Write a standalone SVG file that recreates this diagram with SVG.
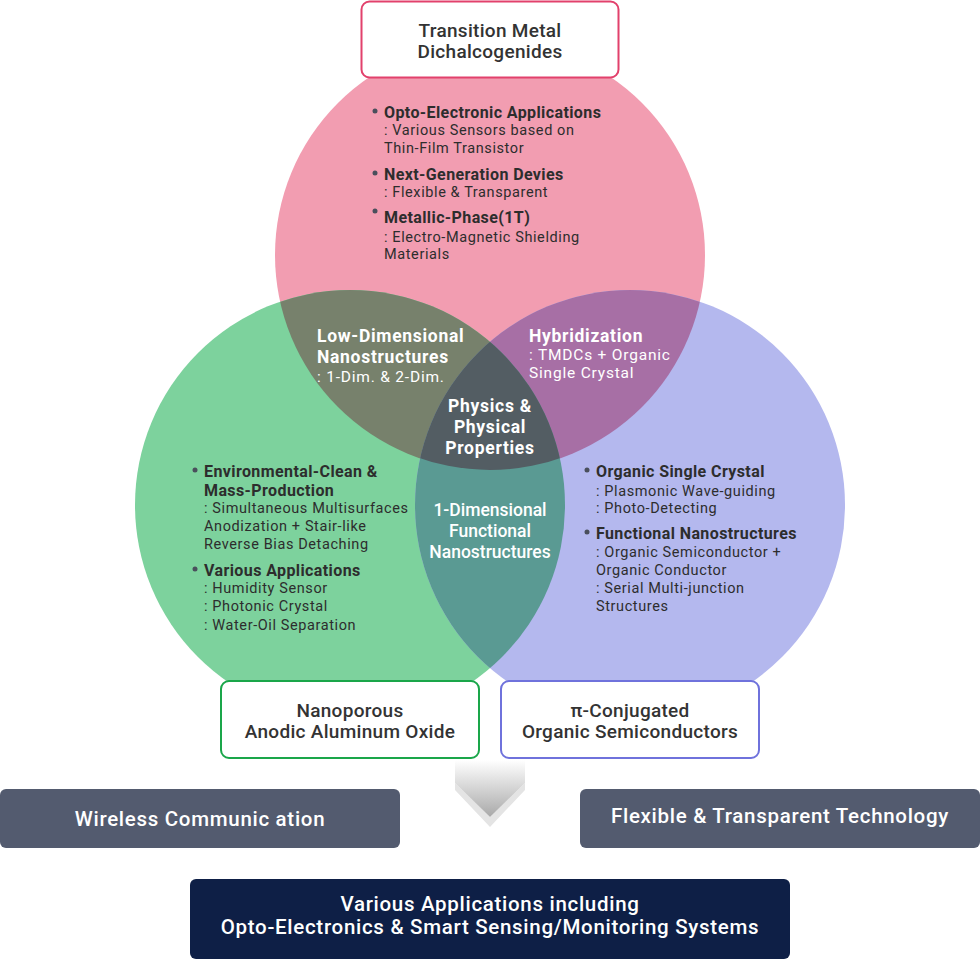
<svg xmlns="http://www.w3.org/2000/svg" width="980" height="959" viewBox="0 0 980 959">
<style>
text{font-family:Roboto,"Noto Sans","Liberation Sans",sans-serif}
.t{fill:#2d2d2d;font-size:14.5px;letter-spacing:0.6px}
.tb{fill:#2d2d2d;font-size:16px;font-weight:700;letter-spacing:0.4px}
.w{fill:#fff;font-size:15.5px;letter-spacing:0.8px}
.wb{fill:#fff;font-size:17.5px;font-weight:700;letter-spacing:0.7px}
.wm{fill:#fff;font-size:17.5px;font-weight:500}
.bx{fill:#333;font-size:19px;font-weight:500;letter-spacing:0.3px}
.dot{fill:#4a4f5c}
.gb{fill:#fff;font-size:20.5px;font-weight:500;letter-spacing:0.7px}
</style>
<defs>
<clipPath id="cP"><circle cx="490" cy="255" r="215"/></clipPath>
<clipPath id="cG"><circle cx="350" cy="505" r="215"/></clipPath>
<clipPath id="cB"><circle cx="630" cy="505" r="215"/></clipPath>
<linearGradient id="ag" x1="0" y1="0" x2="0" y2="1">
<stop offset="0" stop-color="#ffffff"/>
<stop offset="1" stop-color="#a9a9a9"/>
</linearGradient>
</defs>

<g id="venn">
<circle cx="490" cy="255" r="215" fill="#f29db1"/>
<circle cx="350" cy="505" r="215" fill="#7dd29d"/>
<circle cx="630" cy="505" r="215" fill="#b4b8ee"/>
<circle cx="350" cy="505" r="215" fill="#77816c" clip-path="url(#cP)"/>
<circle cx="630" cy="505" r="215" fill="#a76fa5" clip-path="url(#cP)"/>
<circle cx="630" cy="505" r="215" fill="#5a9a93" clip-path="url(#cG)"/>
<g clip-path="url(#cG)"><circle cx="490" cy="255" r="215" fill="#535d63" clip-path="url(#cB)"/></g>
</g>

<g id="tmd-content">
<circle class="dot" cx="375" cy="111" r="2.5"/>
<text class="tb" x="384" y="118">Opto-Electronic Applications</text>
<text class="t" x="384" y="135">: Various Sensors based on</text>
<text class="t" x="384" y="153">Thin-Film Transistor</text>
<circle class="dot" cx="375" cy="173" r="2.5"/>
<text class="tb" x="384" y="180">Next-Generation Devies</text>
<text class="t" x="384" y="197">: Flexible &amp; Transparent</text>
<circle class="dot" cx="375" cy="211" r="2.5"/>
<text class="tb" x="384" y="223">Metallic-Phase(1T)</text>
<text class="t" x="384" y="242">: Electro-Magnetic Shielding</text>
<text class="t" x="384" y="259">Materials</text>
</g>

<g id="low-dim">
<text class="wb" x="317" y="342">Low-Dimensional</text>
<text class="wb" x="317" y="363">Nanostructures</text>
<text class="w" x="317" y="382">: 1-Dim. &amp; 2-Dim.</text>
</g>

<g id="hybrid">
<text class="wb" x="529" y="342">Hybridization</text>
<text class="w" x="529" y="360">: TMDCs + Organic</text>
<text class="w" x="529" y="378">Single Crystal</text>
</g>

<g id="physics">
<text class="wb" x="490" y="412" text-anchor="middle">Physics &amp;</text>
<text class="wb" x="490" y="433" text-anchor="middle">Physical</text>
<text class="wb" x="490" y="454" text-anchor="middle">Properties</text>
</g>

<g id="one-dim">
<text class="wm" x="490" y="516" text-anchor="middle">1-Dimensional</text>
<text class="wm" x="490" y="537" text-anchor="middle">Functional</text>
<text class="wm" x="490" y="558" text-anchor="middle">Nanostructures</text>
</g>

<g id="aao-content">
<circle class="dot" cx="195" cy="470" r="2.5"/>
<text class="tb" x="204" y="477">Environmental-Clean &amp;</text>
<text class="tb" x="204" y="496">Mass-Production</text>
<text class="t" x="204" y="513">: Simultaneous Multisurfaces</text>
<text class="t" x="204" y="531">Anodization + Stair-like</text>
<text class="t" x="204" y="549">Reverse Bias Detaching</text>
<circle class="dot" cx="195" cy="569" r="2.5"/>
<text class="tb" x="204" y="576">Various Applications</text>
<text class="t" x="204" y="593">: Humidity Sensor</text>
<text class="t" x="204" y="611">: Photonic Crystal</text>
<text class="t" x="204" y="630">: Water-Oil Separation</text>
</g>

<g id="organic-content">
<circle class="dot" cx="587" cy="470" r="2.5"/>
<text class="tb" x="596" y="477">Organic Single Crystal</text>
<text class="t" x="596" y="496">: Plasmonic Wave-guiding</text>
<text class="t" x="596" y="513">: Photo-Detecting</text>
<circle class="dot" cx="587" cy="532" r="2.5"/>
<text class="tb" x="596" y="539">Functional Nanostructures</text>
<text class="t" x="596" y="557">: Organic Semiconductor +</text>
<text class="t" x="596" y="575">Organic Conductor</text>
<text class="t" x="596" y="593">: Serial Multi-junction</text>
<text class="t" x="596" y="611">Structures</text>
</g>

<g id="tmd-box">
<rect x="361.5" y="1.5" width="257" height="76" rx="8" fill="#fff" stroke="#e2416c" stroke-width="2"/>
<text class="bx" x="490" y="37" text-anchor="middle">Transition Metal</text>
<text class="bx" x="490" y="58" text-anchor="middle">Dichalcogenides</text>
</g>

<g id="aao-box">
<rect x="221" y="681" width="258" height="77" rx="8" fill="#fff" stroke="#1aa64a" stroke-width="2"/>
<text class="bx" x="350" y="717" text-anchor="middle">Nanoporous</text>
<text class="bx" x="350" y="738" text-anchor="middle">Anodic Aluminum Oxide</text>
</g>

<g id="organic-box">
<rect x="501" y="681" width="258" height="77" rx="8" fill="#fff" stroke="#6f72dc" stroke-width="2"/>
<text class="bx" x="630" y="717" text-anchor="middle">π-Conjugated</text>
<text class="bx" x="630" y="738" text-anchor="middle">Organic Semiconductors</text>
</g>

<g id="connectors">
<polygon points="455,790 490,827 525,790 525,783 490,817 455,783" fill="#e4e4e4"/>
<polygon points="455,760 525,760 525,783 490,817 455,783" fill="url(#ag)"/>
</g>

<g id="wireless">
<rect x="0" y="789" width="400" height="59" rx="6" fill="#535b6f"/>
<text class="gb" x="200" y="826" text-anchor="middle">Wireless Communic ation</text>
</g>

<g id="flexible">
<rect x="580" y="789" width="400" height="59" rx="6" fill="#535b6f"/>
<text class="gb" x="780" y="823" text-anchor="middle">Flexible &amp; Transparent Technology</text>
</g>

<g id="applications">
<rect x="190" y="879" width="600" height="80" rx="6" fill="#0e1f46"/>
<text class="gb" x="490" y="911" text-anchor="middle">Various Applications including</text>
<text class="gb" x="490" y="934" text-anchor="middle">Opto-Electronics &amp; Smart Sensing/Monitoring Systems</text>
</g>
</svg>
